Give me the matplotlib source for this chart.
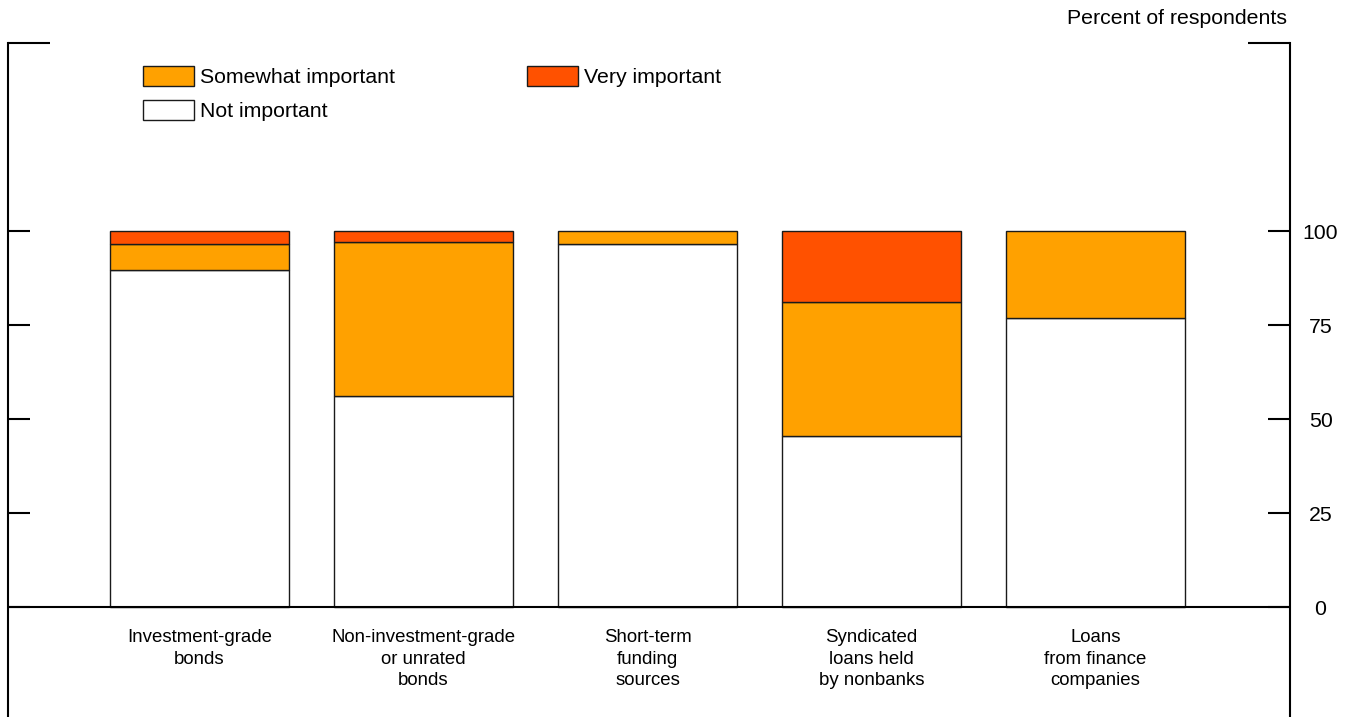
import matplotlib
matplotlib.use("Agg")
import matplotlib.pyplot as plt
from matplotlib.patches import Patch

plt.rcParams['font.family'] = ['Liberation Sans', 'DejaVu Sans']

categories = [
    "Investment-grade\nbonds",
    "Non-investment-grade\nor unrated\nbonds",
    "Short-term\nfunding\nsources",
    "Syndicated\nloans held\nby nonbanks",
    "Loans\nfrom finance\ncompanies",
]
not_important = [89.7, 56.2, 96.5, 45.5, 77.0]
somewhat_important = [6.9, 40.8, 3.5, 35.7, 23.0]
very_important = [3.4, 3.0, 0.0, 18.8, 0.0]
y_ticks = [0, 25, 50, 75, 100]

C_NOT = "#FFFFFF"
C_SOME = "#FFA100"
C_VERY = "#FF5100"
EDGE = "#1a1a1a"

W, H = 1353, 717
fig = plt.figure(figsize=(W / 100, H / 100), dpi=100)
ax = fig.add_axes([8 / W, -3 / H, (1290 - 8) / W, 677 / H])

x = list(range(len(categories)))
bw = 0.8
base2 = [a + b for a, b in zip(not_important, somewhat_important)]
ax.bar(x, not_important, width=bw, color=C_NOT, edgecolor=EDGE, linewidth=1.0, zorder=2)
ax.bar(x, somewhat_important, width=bw, bottom=not_important, color=C_SOME,
       edgecolor=EDGE, linewidth=1.0, zorder=2)
vi_x = [xi for xi, v in zip(x, very_important) if v > 0]
vi_v = [v for v in very_important if v > 0]
vi_b = [b for b, v in zip(base2, very_important) if v > 0]
ax.bar(vi_x, vi_v, width=bw, bottom=vi_b, color=C_VERY, edgecolor=EDGE,
       linewidth=1.0, zorder=2)

ax.axhline(0, color="black", linewidth=1.5, zorder=3)

ax.set_xlim(-0.855, 4.868)
ax.set_ylim(-30, 150)

for s in ("top", "bottom"):
    ax.spines[s].set_visible(False)
for s in ("left", "right"):
    ax.spines[s].set_linewidth(1.5)

ax.set_xticks([])
ax.set_yticks(y_ticks)
ax.set_yticks([150], minor=True)
ax.tick_params(axis="y", which="major", direction="in", length=16, width=1.5,
               left=True, right=True, labelleft=False, labelright=True,
               labelsize=15.3, pad=22)
ax.tick_params(axis="y", which="minor", direction="in", length=30, width=1.5,
               left=True, right=True, labelleft=False, labelright=False)
for lbl in ax.get_yticklabels():
    lbl.set_ha("center")

for xi, lab in zip(x, categories):
    ax.text(xi, -5.9, lab, ha="center", va="top", fontsize=13.4,
            linespacing=1.35)

fig.text(1287 / W, 1 - 24 / H, "Percent of respondents", ha="right",
         va="baseline", fontsize=15.3)

handles = [
    Patch(facecolor=C_SOME, edgecolor=EDGE, linewidth=1.0, label="Somewhat important"),
    Patch(facecolor=C_NOT, edgecolor=EDGE, linewidth=1.0, label="Not important"),
    Patch(facecolor=C_VERY, edgecolor=EDGE, linewidth=1.0, label="Very important"),
]
fig.legend(handles=handles, loc="upper left",
           bbox_to_anchor=(143 / W, 1 - 66 / H), bbox_transform=fig.transFigure,
           ncol=2, frameon=False, fontsize=15.3, borderpad=0, borderaxespad=0,
           handlelength=2.4, handleheight=1.05, handletextpad=0.28,
           columnspacing=6.2, labelspacing=0.62)

fig.savefig("out.png", dpi=100)
